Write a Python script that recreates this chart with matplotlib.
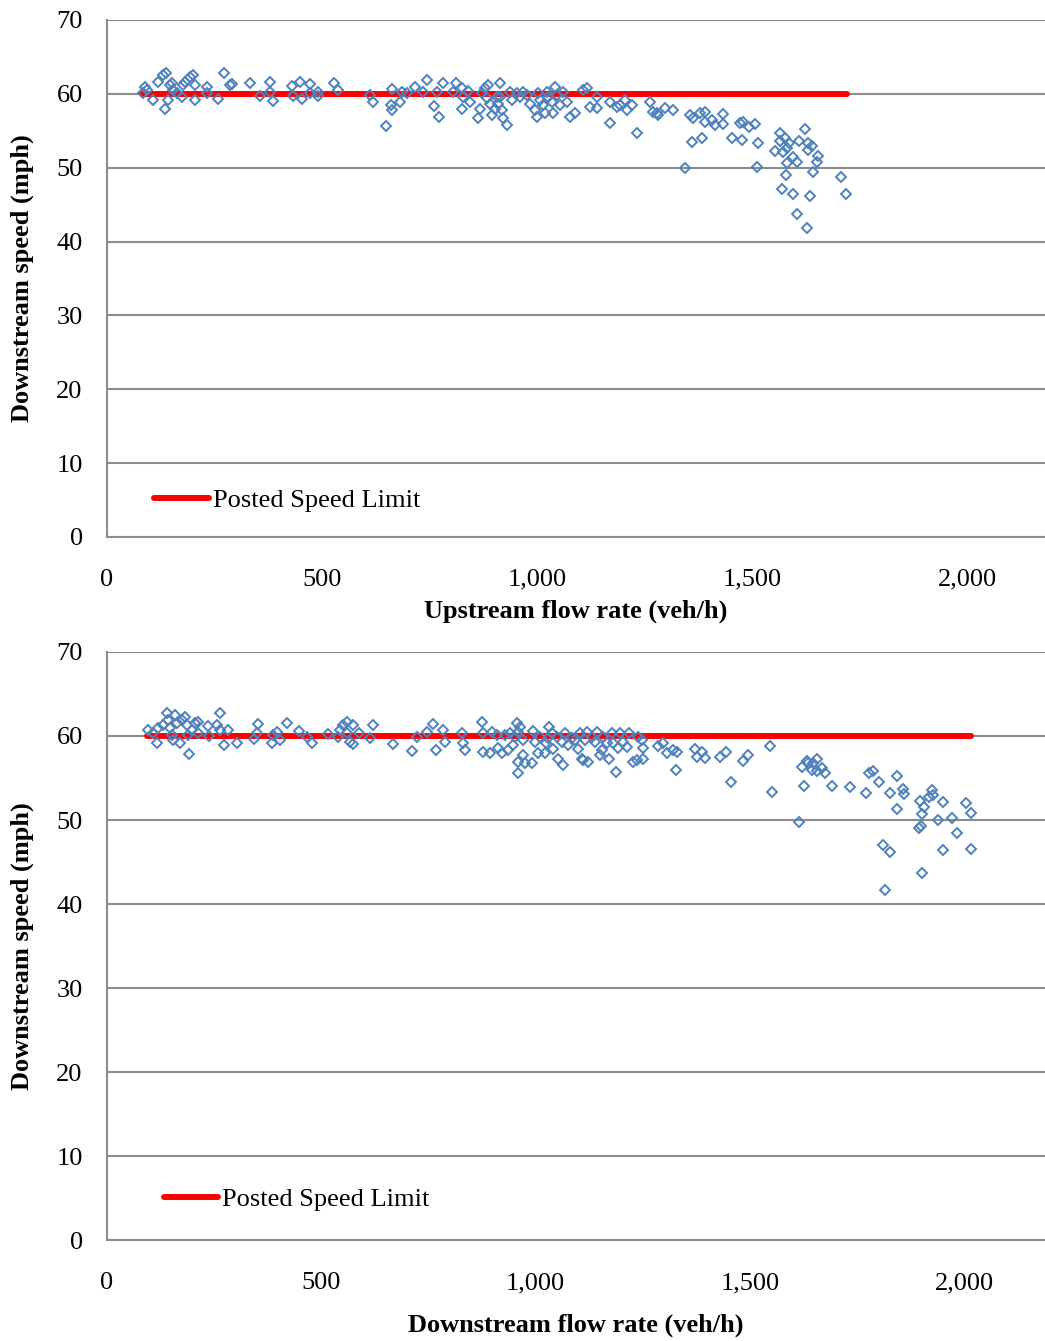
import matplotlib.pyplot as plt

plt.rcParams['font.family'] = ['Liberation Serif', 'DejaVu Serif']

# upstream flow (veh/h) vs downstream speed (mph)
up_flow = [88, 93, 84, 107, 119, 130, 137, 135, 142, 147, 151, 154, 163, 174, 177, 181,
           193, 200, 205, 205, 233, 233, 258, 272, 286, 291, 333, 356, 379, 379, 386, 430,
           433, 449, 454, 472, 472, 491, 491, 528, 537, 612, 619, 649, 661, 663, 663, 682,
           686, 698, 716, 735, 744, 761, 772, 782, 768, 812, 805, 826, 826, 828, 840, 844,
           868, 863, 872, 879, 886, 884, 891, 896, 902, 907, 909, 914, 919, 921, 930, 914,
           937, 942, 954, 960, 967, 977, 984, 995, 1000, 1002, 1007, 1014, 1019, 1023, 1026,
           1035, 1037, 1042, 1047, 1054, 1061, 1070, 1077, 1089, 1107, 1116, 1123, 1140, 1140,
           1170, 1170, 1186, 1193, 1205, 1209, 1221, 1233, 1263, 1270, 1279, 1282, 1298, 1317,
           1344, 1356, 1361, 1363, 1379, 1384, 1391, 1391, 1407, 1414, 1433, 1433, 1454, 1472,
           1479, 1477, 1493, 1507, 1514, 1512, 1554, 1565, 1565, 1572, 1577, 1582, 1586, 1596,
           1582, 1605, 1579, 1570, 1596, 1605, 1610, 1623, 1630, 1630, 1640, 1654, 1651, 1642,
           1635, 1628, 1707, 1719]
up_speed = [60.9, 60.5, 60.1, 59.2, 61.6, 62.5, 62.8, 57.9, 59.2, 61.2, 61.5, 60.5, 60.1, 59.6,
            61.2, 61.6, 62.3, 62.5, 61.2, 59.2, 60.9, 60.1, 59.3, 62.8, 61.2, 61.3, 61.5, 59.7,
            61.6, 60.2, 59.0, 61.1, 59.7, 61.6, 59.3, 61.3, 60.1, 60.2, 59.7, 61.5, 60.5, 59.8,
            58.9, 55.6, 58.5, 57.8, 60.6, 58.9, 60.2, 60.1, 60.9, 60.2, 61.9, 58.3, 56.9, 61.5,
            60.2, 61.5, 60.2, 60.8, 57.9, 59.6, 60.4, 58.9, 57.9, 56.7, 60.1, 60.8, 61.2, 59.4,
            58.6, 57.2, 57.9, 59.6, 58.6, 61.5, 57.8, 56.7, 55.8, 59.6, 60.2, 59.2, 60.1, 59.6,
            60.2, 59.8, 58.6, 57.8, 56.9, 60.1, 59.2, 58.5, 57.4, 60.2, 59.6, 58.9, 57.4, 60.9,
            59.8, 58.5, 60.2, 58.9, 56.9, 57.4, 60.5, 60.8, 58.2, 59.6, 58.1, 58.9, 56.0, 58.2,
            58.5, 59.2, 57.8, 58.5, 54.7, 58.9, 57.5, 57.4, 57.1, 58.1, 57.8, 50.0, 57.1, 53.5,
            56.7, 57.4, 54.0, 56.2, 57.5, 56.5, 55.8, 57.3, 55.9, 54.0, 56.0, 56.2, 53.7, 55.5,
            55.9, 53.3, 50.1, 52.2, 54.7, 53.6, 52.1, 54.0, 52.7, 53.3, 51.4, 50.6, 50.8, 49.0,
            47.1, 46.4, 43.7, 53.6, 55.2, 53.3, 52.4, 52.9, 51.6, 50.8, 49.4, 46.2, 41.8, 48.7,
            46.4]
up_limit_x = [81, 1721]

# downstream flow (veh/h) vs downstream speed (mph)
down_flow = [96, 107, 117, 119, 131, 140, 142, 147, 152, 154, 159, 163, 170, 175, 182, 187,
             189, 191, 198, 205, 212, 212, 236, 238, 257, 264, 264, 273, 282, 303, 343, 350,
             352, 385, 387, 397, 404, 420, 448, 467, 478, 516, 539, 544, 551, 560, 560, 567,
             574, 574, 588, 614, 621, 668, 712, 724, 747, 761, 768, 784, 789, 829, 831, 836,
             875, 878, 878, 894, 899, 910, 913, 922, 929, 936, 941, 948, 952, 957, 959, 964,
             959, 959, 971, 971, 976, 992, 994, 999, 1006, 1011, 1022, 1025, 1029, 1032, 1039,
             1041, 1050, 1053, 1062, 1064, 1069, 1076, 1085, 1092, 1099, 1104, 1109, 1111, 1116,
             1120, 1123, 1132, 1139, 1144, 1151, 1155, 1158, 1167, 1172, 1179, 1181, 1188, 1193,
             1197, 1204, 1214, 1218, 1228, 1237, 1239, 1249, 1251, 1251, 1286, 1298, 1307, 1321,
             1330, 1328, 1372, 1389, 1377, 1396, 1431, 1445, 1456, 1484, 1496, 1547, 1552, 1615,
             1622, 1627, 1634, 1636, 1645, 1648, 1657, 1657, 1669, 1676, 1692, 1734, 1771, 1778,
             1788, 1802, 1811, 1816, 1828, 1828, 1844, 1844, 1858, 1860, 1898, 1902, 1895, 1900,
             1902, 1907, 1919, 1926, 1928, 1940, 1951, 1951, 1972, 1984, 2005, 2017, 2017]
down_speed = [60.7, 60.4, 59.2, 61.0, 61.3, 62.7, 61.9, 61.0, 60.1, 59.5, 62.5, 61.5, 59.2, 61.9,
              62.3, 61.3, 60.1, 57.9, 60.7, 61.5, 61.7, 60.4, 61.2, 60.0, 61.3, 62.7, 60.7, 58.9,
              60.7, 59.2, 59.6, 60.4, 61.4, 59.2, 60.1, 60.5, 59.5, 61.5, 60.6, 59.9, 59.2, 60.2,
              59.9, 60.7, 61.3, 61.7, 60.4, 59.3, 61.3, 59.0, 60.4, 59.8, 61.3, 59.0, 58.2, 59.9,
              60.5, 61.4, 58.3, 60.7, 59.3, 60.4, 59.2, 58.3, 61.7, 60.4, 58.1, 58.0, 60.5, 60.1,
              58.6, 58.0, 60.1, 58.3, 60.4, 58.9, 59.9, 61.5, 60.5, 61.1, 56.9, 55.6, 57.7, 59.5,
              56.8, 56.8, 60.6, 59.3, 58.0, 59.9, 58.0, 59.2, 59.8, 61.1, 60.4, 58.5, 59.9, 57.3,
              59.3, 56.5, 60.4, 58.9, 59.8, 59.5, 58.5, 60.4, 57.3, 57.1, 59.5, 60.5, 56.9, 59.9,
              59.3, 60.5, 57.7, 58.3, 59.9, 59.2, 57.3, 60.4, 59.2, 55.7, 58.6, 60.4, 59.3, 58.7,
              60.4, 56.9, 57.1, 59.9, 59.5, 58.6, 57.3, 58.8, 59.2, 58.0, 58.3, 58.1, 56.0, 58.5,
              58.1, 57.5, 57.4, 57.5, 58.1, 54.5, 57.0, 57.7, 58.8, 53.3, 49.8, 56.3, 54.0, 57.0,
              56.8, 56.0, 56.8, 57.3, 55.8, 56.2, 55.6, 54.0, 53.9, 53.2, 55.6, 55.8, 54.5, 47.0,
              41.7, 53.2, 46.2, 55.2, 51.3, 53.7, 53.1, 52.3, 50.7, 49.0, 49.3, 43.7, 51.5, 52.7,
              53.6, 53.0, 50.0, 52.1, 46.4, 50.2, 48.4, 52.0, 50.8, 46.5]
down_limit_x = [93, 2017]

speed_limit = 60
y_ticks = [0, 10, 20, 30, 40, 50, 60, 70]
x_ticks = [0, 500, 1000, 1500, 2000]
x_tick_labels = ["0", "500", "1,000", "1,500", "2,000"]

fig = plt.figure(figsize=(10.45, 13.41), dpi=100)
ax1 = fig.add_axes([0.1024, 0.5996, 0.8976, 0.3855])
ax2 = fig.add_axes([0.1024, 0.0753, 0.8976, 0.4385])

panels = [
    (ax1, up_flow, up_speed, up_limit_x, "Upstream flow rate (veh/h)", 2181, (0.039, 0.027), 6),
    (ax2, down_flow, down_speed, down_limit_x, "Downstream flow rate (veh/h)", 2189, (0.049, 0.031), 14),
]

for ax, xs, ys, lim_x, xlabel, xmax, leg_pos, xpad in panels:
    ax.set_xlim(0, xmax)
    ax.set_ylim(0, 70)
    ax.set_yticks(y_ticks)
    ax.set_xticks(x_ticks)
    ax.set_xticklabels(x_tick_labels)
    ax.grid(axis="y", color="#8c8c8c", linewidth=1.5)
    ax.set_axisbelow(True)
    for side in ["top", "right"]:
        ax.spines[side].set_visible(False)
    for side in ["left", "bottom"]:
        ax.spines[side].set_color("#8c8c8c")
        ax.spines[side].set_linewidth(1.5)
    ax.tick_params(length=0, labelsize=19)
    ax.tick_params(axis="y", pad=17.5)
    ax.tick_params(axis="x", pad=23)

    ax.plot(lim_x, [speed_limit, speed_limit], color="#ff0000", linewidth=4.3,
            solid_capstyle="round", label="Posted Speed Limit", zorder=2)
    ax.plot(xs, ys, linestyle="none", marker="D", markersize=4.8, markerfacecolor="none",
            markeredgecolor="#4f81bd", markeredgewidth=1.4, zorder=3)

    ax.set_ylabel("Downstream speed (mph)", fontsize=19, fontweight="bold", labelpad=16)
    ax.set_xlabel(xlabel, fontsize=19, fontweight="bold", labelpad=xpad)
    ax.legend(loc="lower left", bbox_to_anchor=leg_pos, frameon=False, fontsize=19,
              handlelength=2.08, handletextpad=0.15, borderaxespad=0)

fig.savefig("out.png", dpi=100)
